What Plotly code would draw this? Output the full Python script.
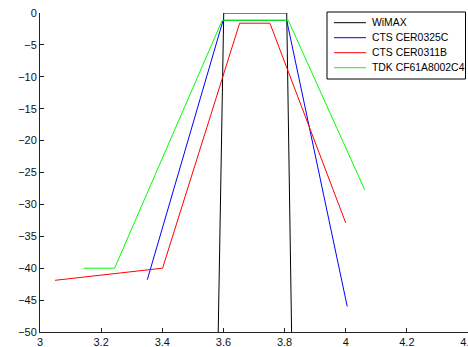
import plotly.graph_objects as go

wimax_x = [3.583, 3.601, 3.807, 3.823]
wimax_y = [-50, 0, 0, -50]

cer0325c_x = [3.351, 3.599, 3.807, 4.005]
cer0325c_y = [-41.8, -1.15, -1.15, -46.0]

cer0311b_x = [3.049, 3.401, 3.653, 3.752, 4.0]
cer0311b_y = [-41.9, -40.0, -1.6, -1.6, -32.9]

tdk_x = [3.142, 3.244, 3.596, 3.812, 4.062]
tdk_y = [-40.0, -40.0, -1.15, -1.15, -27.7]

x_ticks = [3, 3.2, 3.4, 3.6, 3.8, 4, 4.2, 4.4]
x_tick_text = ["3", "3.2", "3.4", "3.6", "3.8", "4", "4.2", "4.4"]
y_ticks = [0, -5, -10, -15, -20, -25, -30, -35, -40, -45, -50]

series_names = ["WiMAX", "CTS CER0325C", "CTS CER0311B", "TDK CF61A8002C4"]
series_colors = ["#000000", "#0000ff", "#ff0000", "#00ff00"]
series_x = [wimax_x, cer0325c_x, cer0311b_x, tdk_x]
series_y = [wimax_y, cer0325c_y, cer0311b_y, tdk_y]

W, H = 468, 347
ML, MR, MT, MB = 40, 0, 13, 15
PW, PH = W - ML - MR, H - MT - MB
FONT = "Liberation Sans, Arial"


def px_x(px):
    return (px - ML) / PW


def px_y(py):
    return (H - MB - py) / PH


fig = go.Figure()
for name, xs, ys, color in zip(series_names, series_x, series_y, series_colors):
    fig.add_trace(go.Scatter(x=xs, y=ys, mode="lines", name=name,
                             line=dict(color=color, width=1), showlegend=False,
                             hoverinfo="skip"))

axis_common = dict(
    showgrid=False, zeroline=False, showline=True, linecolor="#222222",
    linewidth=1, ticks="inside", ticklen=4, tickcolor="#222222",
    tickfont=dict(family=FONT, size=11, color="#111111"),
    mirror=False,
)

# custom legend (box, sample lines, labels)
shapes = [dict(type="rect", xref="paper", yref="paper",
               x0=px_x(327), x1=px_x(465.5), y0=px_y(79), y1=px_y(12),
               line=dict(color="#000000", width=1), fillcolor="white", layer="above")]
annotations = []
row0, row_gap = 22.7, 15
for i, (name, color) in enumerate(zip(series_names, series_colors)):
    yy = px_y(row0 + i * row_gap)
    shapes.append(dict(type="line", xref="paper", yref="paper",
                       x0=px_x(334), x1=px_x(366), y0=yy, y1=yy,
                       line=dict(color=color, width=1), layer="above"))
    annotations.append(dict(xref="paper", yref="paper", x=px_x(369.5), y=yy,
                            xanchor="left", yanchor="middle", text=name,
                            showarrow=False,
                            font=dict(family=FONT, size=10.4, color="#000000")))

fig.update_layout(
    width=W, height=H,
    margin=dict(l=ML, r=MR, t=MT, b=MB, autoexpand=False),
    paper_bgcolor="white", plot_bgcolor="white",
    font=dict(family=FONT, size=11, color="#000000"),
    xaxis=dict(range=[3, 4.4], tickvals=x_ticks, ticktext=x_tick_text,
               ticklabeloverflow="allow", **axis_common),
    yaxis=dict(range=[-50, 0], tickvals=y_ticks, **axis_common),
    shapes=shapes,
    annotations=annotations,
    showlegend=False,
)

fig.write_html("out.html", config={"displayModeBar": False},
               post_script="document.body.style.margin='0';")
